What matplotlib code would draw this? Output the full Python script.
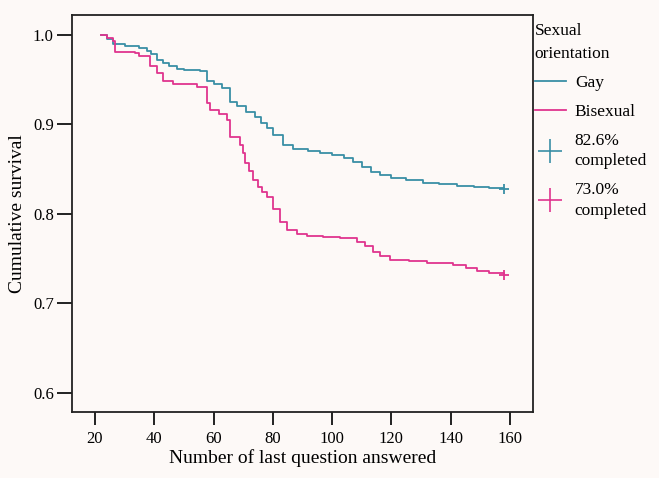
import matplotlib.pyplot as plt
from matplotlib.lines import Line2D

# step points (question number, cumulative survival)
gay_x = [22, 24, 26, 30, 33, 35, 37.5, 39, 41, 43, 45, 47.7, 50, 55.4, 57.8, 60,
         63, 65.5, 68, 71, 74, 76, 78, 80, 83.4, 86.8, 89, 92, 95.9, 100, 104,
         107, 110, 113, 116, 120, 125, 130.7, 136, 142, 148, 153, 158]
gay_y = [1.0, 0.995, 0.99, 0.988, 0.987, 0.985, 0.982, 0.978, 0.972, 0.968, 0.965,
         0.962, 0.961, 0.96, 0.948, 0.945, 0.941, 0.925, 0.92, 0.914, 0.908, 0.902,
         0.896, 0.888, 0.877, 0.873, 0.872, 0.87, 0.868, 0.866, 0.862, 0.858, 0.852,
         0.847, 0.843, 0.84, 0.838, 0.835, 0.833, 0.831, 0.83, 0.829, 0.828]

bi_x = [22, 24, 26, 26.7, 33.5, 35, 37.9, 38.6, 41, 43, 46.3, 54.4, 57.8, 58.8,
        62, 64.5, 65.5, 68.9, 70, 70.6, 72, 73.4, 75, 76.5, 78, 80, 82.4, 84.8,
        88, 91.5, 97, 102.7, 108.4, 111, 113.8, 116, 119.5, 126, 132, 140.8, 145,
        148.9, 153, 158]
bi_y = [1.0, 0.996, 0.993, 0.981, 0.98, 0.976, 0.976, 0.965, 0.957, 0.948, 0.945,
        0.942, 0.924, 0.916, 0.912, 0.905, 0.886, 0.877, 0.868, 0.857, 0.848, 0.838,
        0.83, 0.825, 0.819, 0.805, 0.791, 0.782, 0.778, 0.775, 0.774, 0.773, 0.769,
        0.764, 0.758, 0.753, 0.749, 0.747, 0.745, 0.743, 0.74, 0.736, 0.734, 0.732]

groups = ['Gay', 'Bisexual']
completed = ['82.6%\ncompleted', '73.0%\ncompleted']
colors = ['#3a8fa6', '#e0348e']

plt.rcParams['font.family'] = ['Liberation Serif', 'DejaVu Serif']

fig = plt.figure(figsize=(6.59, 4.78), dpi=100)
fig.patch.set_facecolor('#fdf9f7')
ax = fig.add_axes([0.109, 0.138, 0.700, 0.831])
ax.set_facecolor('#fdf9f7')

ax.step(gay_x, gay_y, where='post', color=colors[0], lw=1.3)
ax.step(bi_x, bi_y, where='post', color=colors[1], lw=1.3)
ax.plot(gay_x[-1], gay_y[-1], marker='+', color=colors[0], ms=7, mew=1.3)
ax.plot(bi_x[-1], bi_y[-1], marker='+', color=colors[1], ms=7, mew=1.3)

ax.set_xlim(12.2, 167.8)
ax.set_ylim(0.5788, 1.0223)
ax.set_xticks(range(20, 161, 20))
ax.set_yticks([0.6, 0.7, 0.8, 0.9, 1.0])
ax.set_yticklabels(['0.6', '0.7', '0.8', '0.9', '1.0'])
ax.tick_params(axis='x', length=9.5, width=1.4, labelsize=12, color='#222222', pad=4)
ax.tick_params(axis='y', length=11, width=1.4, labelsize=12, color='#222222', pad=2)
for s in ax.spines.values():
    s.set_linewidth(1.3)
    s.set_color('#222222')

ax.set_xlabel('Number of last question answered', fontsize=14, labelpad=2)
ax.set_ylabel('Cumulative survival', fontsize=14, labelpad=5)

handles = [
    Line2D([], [], color=colors[0], lw=1.3),
    Line2D([], [], color=colors[1], lw=1.3),
    Line2D([], [], color=colors[0], lw=0, marker='+', ms=17, mew=1.2),
    Line2D([], [], color=colors[1], lw=0, marker='+', ms=17, mew=1.2),
]
leg = ax.legend(handles, groups + completed, title='Sexual\norientation',
                loc='upper left', bbox_to_anchor=(1.0, 0.985), frameon=False,
                fontsize=12.5, title_fontsize=12.5, alignment='left',
                handlelength=1.8, handletextpad=0.5, labelspacing=0.75,
                borderaxespad=0, borderpad=0.1)
leg.get_title().set_linespacing(1.6)
for t in leg.get_texts():
    t.set_linespacing(1.35)

fig.savefig('out.png', dpi=100, facecolor=fig.get_facecolor())
